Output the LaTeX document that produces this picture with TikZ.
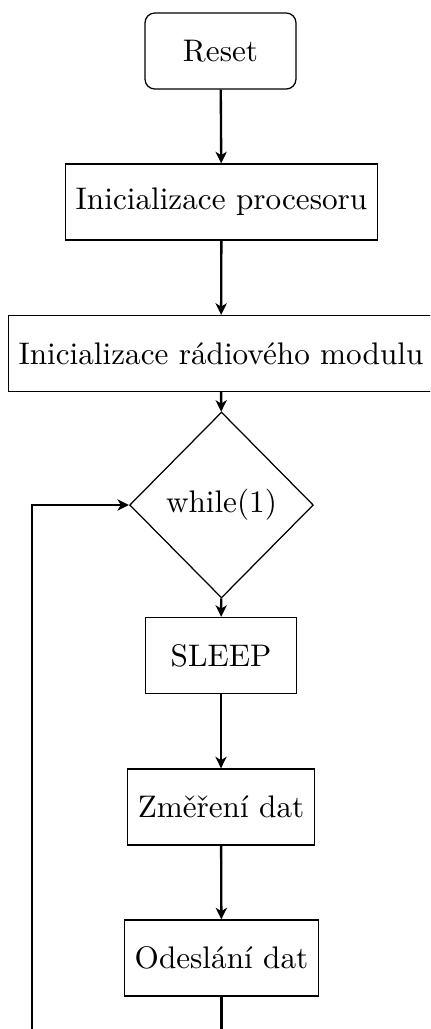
\documentclass[tikz,border=0pt]{standalone}
\usetikzlibrary{shapes.geometric,arrows.meta}
\begin{document}
\begin{tikzpicture}[x=0.3205pt,y=-0.3205pt,
  box/.style={draw,line width=0.4pt,minimum width=48.4pt,minimum height=24.4pt,inner sep=0.3333em},
  rbox/.style={box,rounded corners=3.2pt},
  dec/.style={draw,line width=0.4pt,diamond,minimum width=58.7pt,minimum height=59.6pt,inner sep=0.3333em},
  conn/.style={line width=0.75pt,-{Stealth[length=3.7pt,width=3.6pt,inset=1.1pt]}}]
\clip (0,0) rectangle (430,1029);
\node[rbox] (reset) at (220.5,51) {Reset};
\node[box] (proc) at (221.5,202) {Inicializace procesoru};
\node[box] (radio) at (221,353.5) {Inicializace rádiového modulu};
\node[dec] (loop) at (221.5,505) {while(1)};
\node[box] (sleep) at (221,655.5) {SLEEP};
\node[box] (meas) at (221,807) {Změření dat};
\node[box] (send) at (221.5,958) {Odeslání dat};
\coordinate (c1) at (221.5,1070);
\coordinate (c2) at (32,1070);
\coordinate (c3) at (32,505);
\draw[conn] (reset) -- (proc);
\draw[conn] (proc) -- (radio);
\draw[conn] (radio) -- (loop);
\draw[conn] (loop) -- (sleep);
\draw[conn] (sleep) -- (meas);
\draw[conn] (meas) -- (send);
\draw[conn] (send.south) -- (c1) -- (c2) -- (c3) -- (loop.west);
\end{tikzpicture}
\end{document}
